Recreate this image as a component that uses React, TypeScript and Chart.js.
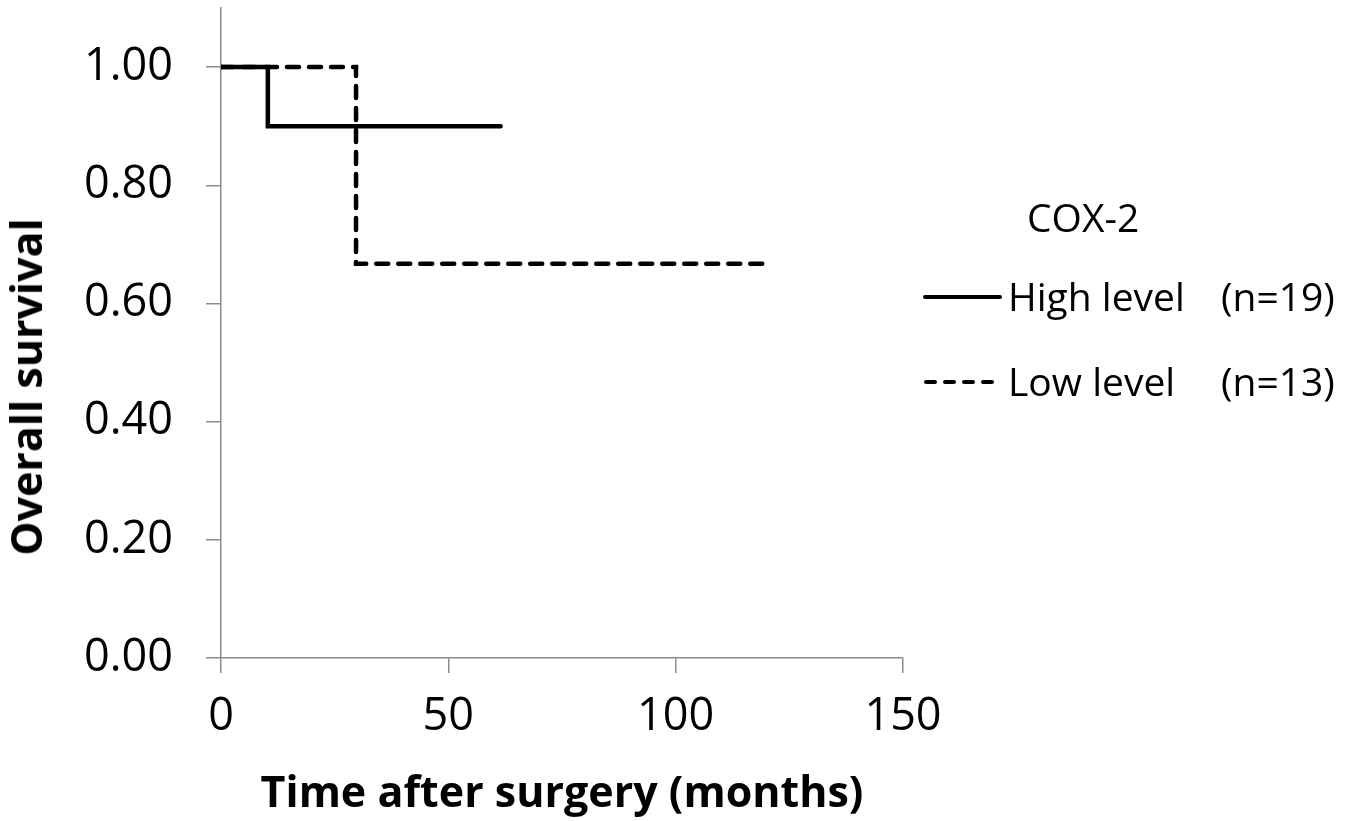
import React, { useEffect, useRef } from "react";
import { Chart, registerables } from "chart.js";

Chart.register(...registerables);

const highTimes = [0, 10.3, 61.5];
const highSurvival = [1.0, 0.9, 0.9];
const lowTimes = [0, 29.7, 120.7];
const lowSurvival = [1.0, 0.667, 0.667];
const xTicks = [0, 50, 100, 150];
const yTicks = [0, 0.2, 0.4, 0.6, 0.8, 1.0];
const legendTitle = "COX-2";
const seriesNames = ["High level", "Low level"];
const seriesCounts = ["(n=19)", "(n=13)"];

const FONT = "'Open Sans', 'Noto Sans', sans-serif";
const AXIS_GRAY = "#8c8c8c";

export default function App() {
  const canvasRef = useRef<HTMLCanvasElement | null>(null);

  useEffect(() => {
    const canvas = canvasRef.current;
    if (!canvas) return;
    const chart = new Chart(canvas, {
      type: "line",
      data: {
        datasets: [
          {
            label: seriesNames[0],
            data: highTimes.map((t, i) => ({ x: t, y: highSurvival[i] })),
            stepped: "before",
            borderColor: "#000",
            borderWidth: 4.5,
            borderCapStyle: "round",
            pointRadius: 0,
            fill: false,
          },
          {
            label: seriesNames[1],
            data: lowTimes.map((t, i) => ({ x: t, y: lowSurvival[i] })),
            stepped: "before",
            borderColor: "#000",
            borderWidth: 4.5,
            borderCapStyle: "round",
            borderDash: [12, 10],
            pointRadius: 0,
            fill: false,
          },
        ],
      },
      options: {
        animation: false,
        responsive: false,
        devicePixelRatio: 1,
        layout: { padding: { top: 8, right: 456, bottom: 0, left: 0 } },
        plugins: { legend: { display: false }, tooltip: { enabled: false } },
        scales: {
          x: {
            type: "linear",
            min: xTicks[0],
            max: xTicks[xTicks.length - 1],
            afterBuildTicks: (s: any) => {
              s.ticks = xTicks.map((v) => ({ value: v }));
            },
            afterFit: (s: any) => {
              s.height = 163;
              s.paddingLeft = 0;
              s.paddingRight = 0;
            },
            ticks: {
              color: "#000",
              font: { family: FONT, size: 45 },
              padding: 17,
              maxRotation: 0,
              callback: (v: any) => String(v),
            },
            grid: {
              drawOnChartArea: false,
              drawTicks: true,
              tickLength: 15,
              color: AXIS_GRAY,
              lineWidth: 1.5,
            },
            border: { display: true, color: AXIS_GRAY, width: 1.5 },
            title: {
              display: true,
              text: "Time after surgery (months)",
              color: "#000",
              font: { family: FONT, size: 43, weight: "bold" },
              padding: { top: 0, bottom: 0 },
            },
          },
          y: {
            type: "linear",
            min: 0,
            max: 1.1,
            afterBuildTicks: (s: any) => {
              s.ticks = yTicks.map((v) => ({ value: v }));
            },
            afterFit: (s: any) => {
              s.width = 221;
              s.paddingTop = 0;
              s.paddingBottom = 0;
            },
            ticks: {
              color: "#000",
              font: { family: FONT, size: 45 },
              padding: 33,
              callback: (v: any) => Number(v).toFixed(2),
            },
            grid: {
              drawOnChartArea: false,
              drawTicks: true,
              tickLength: 15,
              color: AXIS_GRAY,
              lineWidth: 1.5,
            },
            border: { display: true, color: AXIS_GRAY, width: 1.5 },
          },
        },
      },
    });
    return () => chart.destroy();
  }, []);

  const textStyle: React.CSSProperties = {
    position: "absolute",
    fontFamily: FONT,
    fontSize: 39,
    lineHeight: "48px",
    color: "#000",
    whiteSpace: "nowrap",
  };

  return (
    <div style={{ position: "absolute", left: 0, top: 0, width: 1359, height: 821, background: "#fff" }}>
      <canvas ref={canvasRef} width={1359} height={821} style={{ position: "absolute", left: 0, top: 0 }} />
      <div
        style={{
          position: "absolute",
          left: 26,
          top: 387,
          transform: "translate(-50%, -50%) rotate(-90deg)",
          fontFamily: FONT,
          fontWeight: "bold",
          fontSize: 43,
          lineHeight: "52px",
          whiteSpace: "nowrap",
          color: "#000",
        }}
      >
        Overall survival
      </div>
      <div style={{ ...textStyle, left: 1027, top: 193 }}>{legendTitle}</div>
      <svg style={{ position: "absolute", left: 920, top: 280 }} width={90} height={120}>
        <line x1={5} y1={17} x2={80} y2={17} stroke="#000" strokeWidth={4} strokeLinecap="round" />
        <line x1={6} y1={102} x2={79} y2={102} stroke="#000" strokeWidth={4} strokeLinecap="round" strokeDasharray="9 10" />
      </svg>
      <div style={{ ...textStyle, left: 1008, top: 272 }}>{seriesNames[0]}</div>
      <div style={{ ...textStyle, left: 1221, top: 272 }}>{seriesCounts[0]}</div>
      <div style={{ ...textStyle, left: 1008, top: 357 }}>{seriesNames[1]}</div>
      <div style={{ ...textStyle, left: 1221, top: 357 }}>{seriesCounts[1]}</div>
    </div>
  );
}
